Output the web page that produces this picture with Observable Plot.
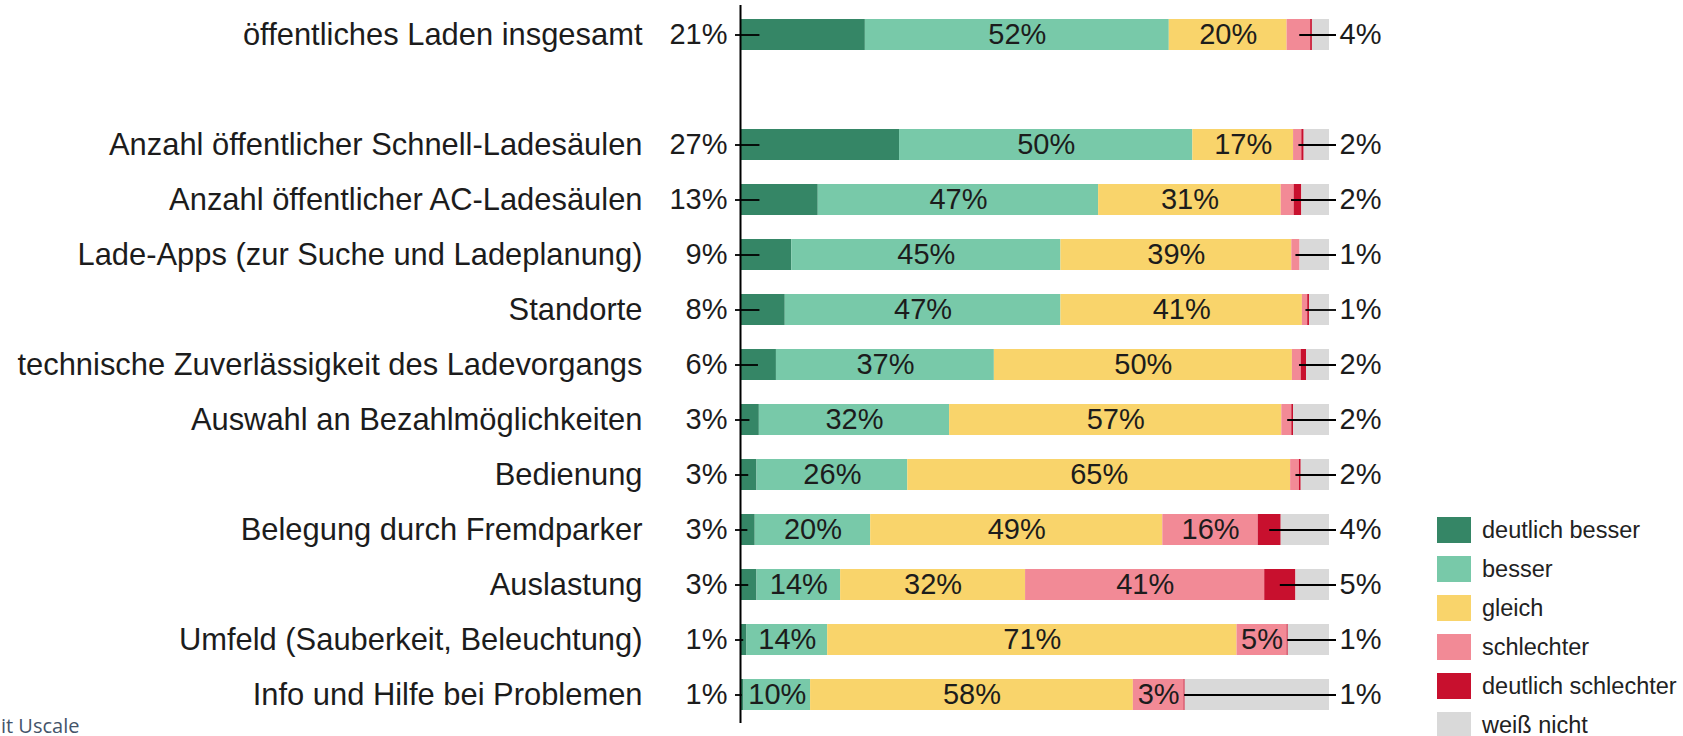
<!DOCTYPE html>
<html>
<head>
<meta charset="utf-8">
<script src="https://cdn.jsdelivr.net/npm/d3@7"></script>
<script src="https://cdn.jsdelivr.net/npm/@observablehq/plot@0.6"></script>
<style>
  html, body { margin: 0; padding: 0; background: #fff; overflow: hidden; }
  #chart { position: absolute; left: 0; top: 0; }
  .legend { position: absolute; left: 1437px; top: 517px; font-family: "Liberation Sans", Arial, sans-serif; }
  .item { display: flex; align-items: center; height: 26px; margin-bottom: 13px; }
  .sw { width: 34px; height: 26px; margin-right: 11px; }
  .lbl { font-size: 23.5px; line-height: 26px; color: #222; }
  .src { position: absolute; left: 1px; top: 716px; font-family: "Open Sans", "Noto Sans", sans-serif; font-size: 20px; line-height: 1; color: #44546a; }
</style>
</head>
<body>
<div id="chart"></div>
<div class="legend" id="legend"></div>
<div class="src">it Uscale</div>
<script>
// Categories (rows); " " is the empty spacer row
const zeilen = [
  "öffentliches Laden insgesamt",
  " ",
  "Anzahl öffentlicher Schnell-Ladesäulen",
  "Anzahl öffentlicher AC-Ladesäulen",
  "Lade-Apps (zur Suche und Ladeplanung)",
  "Standorte",
  "technische Zuverlässigkeit des Ladevorgangs",
  "Auswahl an Bezahlmöglichkeiten",
  "Bedienung",
  "Belegung durch Fremdparker",
  "Auslastung",
  "Umfeld (Sauberkeit, Beleuchtung)",
  "Info und Hilfe bei Problemen"
];
const items = zeilen.filter(z => z.trim() !== "");

const kategorien = ["deutlich besser", "besser", "gleich", "schlechter", "deutlich schlechter", "weiß nicht"];
const farben = ["#358666", "#78c9a9", "#f9d46b", "#f28a96", "#c8102e", "#d9d9d9"];

// Segment widths (percent) as drawn
const deutlichBesser     = [21.2, 27.0, 13.2, 8.7, 7.6, 6.1, 3.2, 2.8, 2.5, 2.8, 1.1, 0.6];
const besser             = [51.6, 49.8, 47.6, 45.7, 46.8, 37.0, 32.3, 25.6, 19.6, 14.2, 13.7, 11.3];
const gleich             = [20.0, 17.1, 31.0, 39.2, 41.0, 50.6, 56.4, 65.0, 49.6, 31.4, 69.5, 54.8];
const schlechter         = [4.0, 1.4, 2.2, 1.4, 0.9, 1.5, 1.7, 1.5, 16.2, 40.6, 8.5, 8.6];
const deutlichSchlechter = [0.3, 0.4, 1.3, 0.0, 0.3, 0.9, 0.3, 0.3, 3.9, 5.3, 0.2, 0.2];
const weissNicht         = [2.9, 4.3, 4.7, 5.0, 3.4, 3.9, 6.1, 4.8, 8.2, 5.7, 7.0, 24.5];

// Printed labels
const linksLabel      = [21, 27, 13, 9, 8, 6, 3, 3, 3, 3, 1, 1];
const besserLabel     = [52, 50, 47, 45, 47, 37, 32, 26, 20, 14, 14, 10];
const gleichLabel     = [20, 17, 31, 39, 41, 50, 57, 65, 49, 32, 71, 58];
const schlechterLabel = [null, null, null, null, null, null, null, null, 16, 41, 5, 3];
const rechtsLabel     = [4, 2, 2, 1, 1, 2, 2, 2, 4, 5, 1, 1];

const serien = [deutlichBesser, besser, gleich, schlechter, deutlichSchlechter, weissNicht];
const innenLabels = [null, besserLabel, gleichLabel, schlechterLabel, null, null];

// Build stacked segments
const segmente = [];
const innen = [];
const links = [];
const rechts = [];
items.forEach((name, i) => {
  let acc = 0;
  const grenzen = [];
  serien.forEach((s, k) => {
    const x1 = acc, x2 = acc + s[i];
    grenzen.push([x1, x2]);
    segmente.push({name, kat: kategorien[k], x1, x2});
    const lbl = innenLabels[k] ? innenLabels[k][i] : null;
    if (lbl != null) innen.push({name, x: (x1 + x2) / 2, text: lbl + "%"});
    acc = x2;
  });
  links.push({name, x2: Math.min(3.3, deutlichBesser[i] / 2), text: linksLabel[i] + "%"});
  const start = schlechterLabel[i] != null
    ? (grenzen[4][0] + grenzen[4][1]) / 2
    : (grenzen[3][0] + grenzen[4][1]) / 2;
  rechts.push({name, x1: start, text: rechtsLabel[i] + "%"});
});

const textFarbe = "#1c1c1c";

const chart = Plot.plot({
  width: 1683,
  height: 736,
  marginLeft: 740,
  marginRight: 354,
  marginTop: 5,
  marginBottom: 13,
  style: {fontFamily: "'Liberation Sans', Arial, sans-serif", background: "white", color: textFarbe},
  x: {domain: [0, 100], axis: null},
  y: {domain: zeilen, paddingInner: 0.44, paddingOuter: 0.247, axis: null},
  color: {domain: kategorien, range: farben},
  marks: [
    Plot.barX(segmente, {x1: "x1", x2: "x2", y: "name", fill: "kat"}),
    Plot.axisY({tickSize: 0, tickPadding: 98, fontSize: 30.9, fill: textFarbe, label: null}),
    Plot.ruleX([0], {stroke: "black", strokeWidth: 2}),
    Plot.text(innen, {x: "x", y: "name", text: "text", fontSize: 29, fill: textFarbe}),
    Plot.ruleY(links, {y: "name", x1: 0, x2: "x2", insetLeft: -5, stroke: "black", strokeWidth: 1.8}),
    Plot.text(links, {x: 0, y: "name", text: "text", dx: -13, textAnchor: "end", fontSize: 29, fill: textFarbe}),
    Plot.ruleY(rechts, {y: "name", x1: "x1", x2: 100, insetRight: -7, stroke: "black", strokeWidth: 1.8}),
    Plot.text(rechts, {x: 100, y: "name", text: "text", dx: 10, textAnchor: "start", fontSize: 29, fill: textFarbe})
  ]
});
document.getElementById("chart").appendChild(chart);

// Legend
const leg = document.getElementById("legend");
kategorien.forEach((k, i) => {
  const it = document.createElement("div");
  it.className = "item";
  it.innerHTML = `<div class="sw" style="background:${farben[i]}"></div><div class="lbl">${k}</div>`;
  leg.appendChild(it);
});
</script>
</body>
</html>
